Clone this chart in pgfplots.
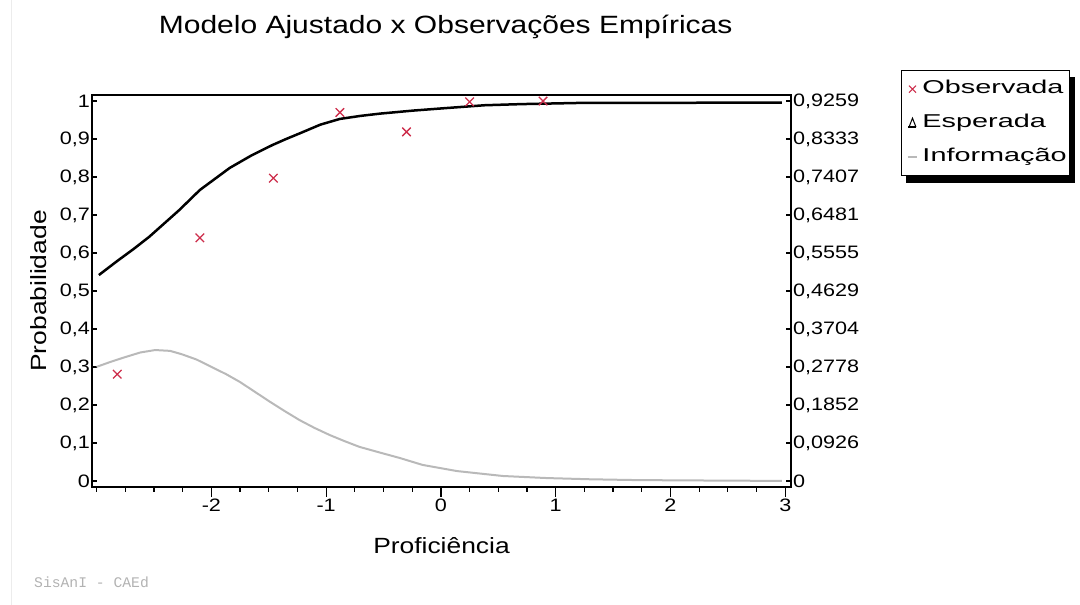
\documentclass[border=0pt]{standalone}
\usepackage{pgfplots}
\pgfplotsset{compat=1.18}
\usepackage{fontspec}
\setmainfont{Liberation Sans}[FakeStretch=1.2]
\newfontfamily\legfont{Liberation Sans}[FakeStretch=1.55]
\newfontfamily\monofont{Liberation Mono}
\pgfdeclarelayer{background}
\pgfsetlayers{background,main}
\definecolor{obsred}{RGB}{205,45,75}
\definecolor{infogray}{RGB}{185,185,185}
\begin{document}
\begin{tikzpicture}[x=1pt,y=1pt]
\useasboundingbox (0,0) rectangle (1080,605);
\draw[gray!15, line width=1pt] (11,0) -- (11,605);
\node[anchor=west, text=gray!60, font=\monofont\fontsize{14.7}{16}\selectfont, inner sep=0pt] at (34,23) {SisAnI - CAEd};

% left y ticks
\begin{axis}[
  at={(92pt,118pt)}, anchor=south west,
  scale only axis, width=699pt, height=392pt,
  xmin=-3.04, xmax=3.05, ymin=-0.016, ymax=1.016,
  axis x line=none, axis y line*=left,
  axis line style={line width=2pt, -},
  ytick={0,0.1,0.2,0.3,0.4,0.5,0.6,0.7,0.8,0.9,1},
  yticklabels={0,{0,1},{0,2},{0,3},{0,4},{0,5},{0,6},{0,7},{0,8},{0,9},1},
  ytick align=inside, major tick length=5pt,
  tick style={black, line width=1.2pt},
  yticklabel style={font=\fontsize{18}{20}\selectfont, inner sep=2pt},
  ylabel={Probabilidade},
  ylabel style={at={(axis description cs:-0.077,0.5)}, anchor=center, font=\fontsize{22}{24}\selectfont},
]
\end{axis}

% right y ticks + information curve
\begin{axis}[
  at={(92pt,118pt)}, anchor=south west,
  scale only axis, width=699pt, height=392pt,
  xmin=-3.04, xmax=3.05, ymin=-0.014814, ymax=0.940714,
  axis x line=none, axis y line*=right,
  axis line style={line width=2pt, -},
  ytick={0,0.0926,0.1852,0.2778,0.3704,0.4629,0.5555,0.6481,0.7407,0.8333,0.9259},
  yticklabels={0,{0,0926},{0,1852},{0,2778},{0,3704},{0,4629},{0,5555},{0,6481},{0,7407},{0,8333},{0,9259}},
  ytick align=inside, major tick length=5pt,
  tick style={black, line width=1.2pt},
  yticklabel style={font=\fontsize{18}{20}\selectfont, inner sep=2pt},
]
\addplot[infogray, line width=2pt] coordinates {
(-3.00,0.278) (-2.88,0.290) (-2.76,0.301) (-2.62,0.313) (-2.49,0.319)
(-2.36,0.317) (-2.26,0.309) (-2.13,0.296) (-2.00,0.278) (-1.87,0.260)
(-1.75,0.241) (-1.62,0.217) (-1.49,0.193) (-1.36,0.170) (-1.23,0.148)
(-1.10,0.129) (-0.97,0.112) (-0.84,0.097) (-0.71,0.083) (-0.53,0.069)
(-0.36,0.056) (-0.16,0.039) (0.14,0.024) (0.54,0.012) (0.92,0.007)
(1.30,0.004) (1.71,0.002) (2.30,0.001) (2.97,0.000)
};
\end{axis}

% main axis
\begin{axis}[
  at={(92pt,118pt)}, anchor=south west,
  scale only axis, width=699pt, height=392pt,
  xmin=-3.04, xmax=3.05, ymin=-0.016, ymax=1.016,
  axis line style={line width=2pt},
  xtick={-2,-1,0,1,2,3},
  minor xtick={-3,-2.75,-2.5,-2.25,-1.75,-1.5,-1.25,-0.75,-0.5,-0.25,0.25,0.5,0.75,1.25,1.5,1.75,2.25,2.5,2.75},
  xtick pos=lower, xtick align=outside,
  major tick length=10pt, minor tick length=5pt,
  ytick=\empty,
  tick style={black, line width=1.2pt},
  xticklabel style={font=\fontsize{18}{20}\selectfont, inner sep=2pt},
  /pgf/number format/assume math mode=true,
  xlabel={Proficiência},
  xlabel style={at={(axis description cs:0.5,-0.150)}, anchor=center, font=\fontsize{22}{24}\selectfont},
  title={Modelo Ajustado x Observações Empíricas},
  title style={at={(axis description cs:0.506,1.158)}, anchor=center, font=\fontsize{25}{28}\selectfont},
  legend style={name=leg, at={(axis description cs:1.157,1.064)}, anchor=north west,
    draw=black, line width=1.5pt, fill=white,
    font=\legfont\fontsize{18.6}{20}\selectfont,
    row sep=15pt, inner xsep=2pt, inner ysep=9pt,
    nodes={inner sep=1pt, text height=13pt, text depth=4pt}},
  legend cell align=left,
]
\addplot[only marks, mark=x, mark size=6pt, mark options={obsred, line width=1.3pt},
  legend image code/.code={\path[draw=none, fill=none] (-9pt,0)--(9pt,0); \draw[obsred, line width=1.1pt] (-3.5pt,-3.5pt)--(3.5pt,3.5pt) (-3.5pt,3.5pt)--(3.5pt,-3.5pt);}]
coordinates {(-2.82,0.281) (-2.10,0.640) (-1.46,0.797) (-0.88,0.970) (-0.30,0.919) (0.25,0.998) (0.89,1.000)};
\addlegendentry{Observada}
\addplot[black, line width=2.5pt,
  legend image code/.code={\path[draw=none, fill=none] (-9pt,0)--(9pt,0); \draw[black, line width=1pt, fill=none] (-3.5pt,-4pt)--(0pt,5pt)--(3.5pt,-4pt); \draw[black, line width=2pt] (-4pt,-4pt)--(4pt,-4pt);}]
coordinates {
(-2.98,0.542) (-2.82,0.579) (-2.68,0.610) (-2.54,0.643) (-2.41,0.678)
(-2.28,0.713) (-2.10,0.766) (-1.97,0.795) (-1.84,0.824) (-1.65,0.857)
(-1.47,0.884) (-1.35,0.900) (-1.23,0.915) (-1.05,0.938) (-0.88,0.953)
(-0.70,0.961) (-0.53,0.967) (-0.24,0.975) (0.02,0.981) (0.38,0.989)
(0.70,0.992) (1.19,0.995) (2.97,0.996)
};
\addlegendentry{Esperada}
\addlegendimage{legend image code/.code={\path[draw=none, fill=none] (-9pt,0)--(9pt,0); \draw[infogray, line width=1.5pt] (-4.5pt,0pt)--(4.5pt,0pt);}}
\addlegendentry{Informação}
\end{axis}
\begin{pgfonlayer}{background}
\fill[black] ([shift={(5pt,-7pt)}]leg.south west) rectangle ([shift={(5pt,-7pt)}]leg.north east);
\end{pgfonlayer}
\end{tikzpicture}
\end{document}
